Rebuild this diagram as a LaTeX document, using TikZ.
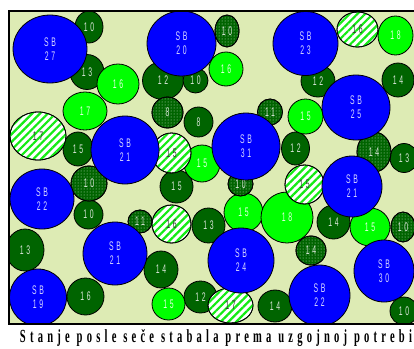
\documentclass[tikz,border=0pt]{standalone}
\usepackage{fontspec}
\usepackage{graphicx}
\usetikzlibrary{shapes.geometric,patterns.meta}
\newfontfamily\digf[LetterSpace=40]{Liberation Sans}
\newfontfamily\capf[LetterSpace=40]{Liberation Serif}
\definecolor{bg}{RGB}{221,235,180}
\definecolor{dkg}{RGB}{0,100,0}
\definecolor{ltg}{RGB}{0,255,0}
\definecolor{blu}{RGB}{0,0,255}
\definecolor{hatchg}{RGB}{20,235,20}
\definecolor{dotc}{RGB}{195,225,195}
\definecolor{txblue}{RGB}{215,215,255}
\definecolor{txdark}{RGB}{215,228,215}
\definecolor{txlight}{RGB}{228,255,228}
\definecolor{txhatch}{RGB}{55,55,55}
\newcommand\lab[1]{\scalebox{0.55}[1]{\digf #1}}
\tikzset{
  tree/.style={ellipse, draw=black, line width=0.8pt, inner sep=0pt,
    font=\fontsize{12.5}{14}\selectfont, align=center},
  sbtree/.style={tree, fill=blu, text=txblue},
  darktree/.style={tree, fill=dkg, text=txdark},
  lighttree/.style={tree, fill=ltg, text=txlight},
  hatchtree/.style={tree, fill=white, text=txhatch,
    postaction={pattern={Lines[angle=45,distance=5.5pt,line width=2.2pt]}, pattern color=hatchg},
    postaction={draw=black, line width=0.8pt}},
  dottree/.style={tree, fill=dkg, text=txdark,
    postaction={pattern={Dots[distance=3pt,radius=0.5pt]}, pattern color=dotc},
    postaction={draw=black, line width=0.8pt}},
  sz/.style 2 args={minimum width=#1pt, minimum height=#2pt},
}
\begin{document}
\begin{tikzpicture}[x=1pt,y=-1pt]
\useasboundingbox (0,0) rectangle (414,348);
\fill[bg] (9,11) rectangle (414,324);
\begin{scope}
\clip (9,11) rectangle (414,324);
% dark green
\node[darktree, sz={28}{32}] (d10a) at (89,27) {\lab{10}};
\node[darktree, sz={34}{35}] (d13a) at (87,72) {\lab{13}};
\node[darktree, sz={41}{38}] (d12a) at (163,80.5) {\lab{12}};
\node[darktree, sz={25}{25}] (d10b) at (195.5,80.5) {\lab{10}};
\node[darktree, sz={29}{30}] (d8) at (198.5,122) {\lab{8}};
\node[darktree, sz={34}{32}] (d12b) at (318,81) {\lab{12}};
\node[darktree, sz={32}{34}] (d14a) at (398,80) {\lab{14}};
\node[darktree, sz={30}{34}] (d15a) at (78,149) {\lab{15}};
\node[darktree, sz={29}{29}] (d10c) at (88.5,214.5) {\lab{10}};
\node[darktree, sz={33}{33}] (d15b) at (176.5,186.5) {\lab{15}};
\node[darktree, sz={28}{33}] (d12c) at (295.5,148.5) {\lab{12}};
\node[darktree, sz={28}{29}] (d13b) at (404,158) {\lab{13}};
\node[darktree, sz={33}{34}] (d14b) at (333.5,222) {\lab{14}};
\node[darktree, sz={33}{35}] (d13c) at (208.5,225.5) {\lab{13}};
\node[darktree, sz={34}{37}] (d14c) at (161,269.5) {\lab{14}};
\node[darktree, sz={33}{32}] (d12d) at (200.5,297) {\lab{12}};
\node[darktree, sz={34}{32}] (d14d) at (275,306) {\lab{14}};
\node[darktree, sz={28}{28}] (d10d) at (404,311) {\lab{10}};
\node[darktree, sz={38}{42}] (d13d) at (25,250) {\lab{13}};
\node[darktree, sz={37}{37}] (d16) at (85.5,296.5) {\lab{16}};
% light green
\node[lighttree, sz={42}{40}] (l16a) at (118,84) {\lab{16}};
\node[lighttree, sz={44}{38}] (l17) at (85,111) {\lab{17}};
\node[lighttree, sz={34}{34}] (l16b) at (226,69) {\lab{16}};
\node[lighttree, sz={35}{39}] (l18a) at (395.5,35.5) {\lab{18}};
\node[lighttree, sz={35}{35}] (l15a) at (305.5,116.5) {\lab{15}};
\node[lighttree, sz={36}{37}] (l15b) at (202,163.5) {\lab{15}};
\node[lighttree, sz={39}{39}] (l15c) at (243.5,212.5) {\lab{15}};
\node[lighttree, sz={52}{51}] (l18b) at (287,217.5) {\lab{18}};
\node[lighttree, sz={40}{38}] (l15d) at (370,227) {\lab{15}};
\node[lighttree, sz={33}{32}] (l15e) at (168.5,304) {\lab{15}};
% hatched
\node[hatchtree, sz={56}{48}] (h17a) at (38,136) {\lab{17}};
\node[hatchtree, sz={41}{35}] (h16a) at (357.5,29.5) {\lab{16}};
\node[hatchtree, sz={39}{40}] (h15a) at (171.5,153) {\lab{15}};
\node[hatchtree, sz={39}{39}] (h15b) at (304.5,184.5) {\lab{15}};
\node[hatchtree, sz={39}{38}] (h16b) at (171.5,224) {\lab{16}};
\node[hatchtree, sz={45}{35}] (h17b) at (230.5,305.5) {\lab{17}};
% dotted
\node[dottree, sz={24}{32}] (p10a) at (227,31) {\lab{10}};
\node[dottree, sz={31}{31}] (p8) at (167.5,112.5) {\lab{8}};
\node[dottree, sz={25}{26}] (p11a) at (270,112) {\lab{11}};
\node[dottree, sz={34}{40}] (p14a) at (374,152) {\lab{14}};
\node[dottree, sz={36}{35}] (p10b) at (89,183.5) {\lab{10}};
\node[dottree, sz={24}{23}] (p11b) at (140,221.5) {\lab{11}};
\node[dottree, sz={25}{24}] (p10c) at (240.5,184) {\lab{10}};
\node[dottree, sz={30}{29}] (p14b) at (311,250.5) {\lab{14}};
\node[dottree, sz={24}{30}] (p10d) at (403,227) {\lab{10}};
% blue SB
\node[sbtree, sz={74}{68}] (b27) at (50,49) {\lab{SB}\\\lab{27}};
\node[sbtree, sz={69}{65}] (b20) at (181.5,43.5) {\lab{SB}\\\lab{20}};
\node[sbtree, sz={65}{64}] (b23) at (305.5,43.5) {\lab{SB}\\\lab{23}};
\node[sbtree, sz={68}{65}] (b25) at (356,107.5) {\lab{SB}\\\lab{25}};
\node[sbtree, sz={68}{68}] (b21a) at (125,150) {\lab{SB}\\\lab{21}};
\node[sbtree, sz={68}{67}] (b31) at (246,146.5) {\lab{SB}\\\lab{31}};
\node[sbtree, sz={64}{60}] (b22a) at (42,199) {\lab{SB}\\\lab{22}};
\node[sbtree, sz={60}{61}] (b21b) at (352,186.5) {\lab{SB}\\\lab{21}};
\node[sbtree, sz={64}{63}] (b21c) at (115,253.5) {\lab{SB}\\\lab{21}};
\node[sbtree, sz={66}{65}] (b24) at (241,260.5) {\lab{SB}\\\lab{24}};
\node[sbtree, sz={60}{62}] (b30) at (384,271) {\lab{SB}\\\lab{30}};
\node[sbtree, sz={57}{57}] (b19) at (38,297.5) {\lab{SB}\\\lab{19}};
\node[sbtree, sz={61}{61}] (b22b) at (319.5,295.5) {\lab{SB}\\\lab{22}};
\end{scope}
\draw[line width=2pt, line cap=rect] (416,11) -- (9,11) -- (9,324) -- (416,324);
\node[inner sep=0pt, anchor=base] (cap) at (216,342.5)
  {\resizebox{392pt}{\height}{\fontsize{18.5}{19}\capf\bfseries Stanje posle seče stabala prema uzgojnoj potrebi}};
\end{tikzpicture}
\end{document}
